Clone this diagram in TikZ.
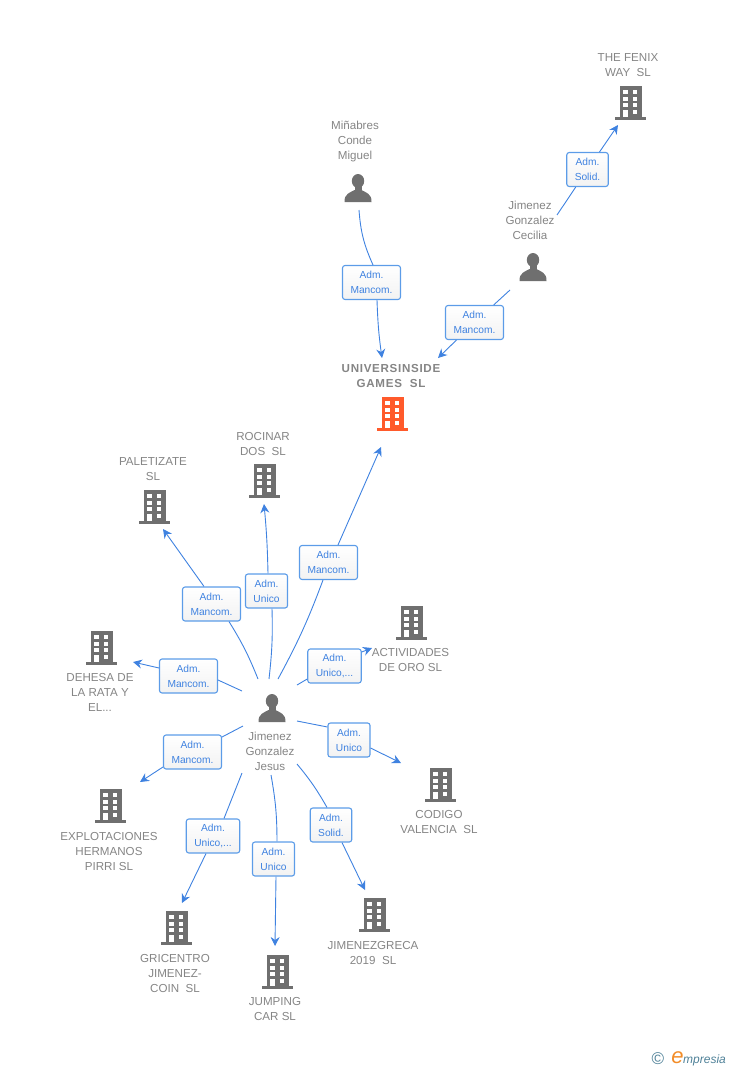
\documentclass[tikz,border=0pt]{standalone}
\usepackage{fontspec}
\setmainfont{Liberation Sans}
\usetikzlibrary{arrows.meta}
\definecolor{linkblue}{HTML}{3F82E0}
\definecolor{boxblue}{HTML}{5C9CE8}
\definecolor{labelgray}{HTML}{858585}
\definecolor{icongray}{HTML}{6F6F6F}
\definecolor{rootorange}{HTML}{FF5A2B}
\definecolor{logoteal}{HTML}{4F8198}
\definecolor{logoorange}{HTML}{F28C28}
\tikzset{
  entity/.style={text=labelgray,align=center,inner sep=0pt,yshift=-.7pt,font=\fontsize{11.6}{15}\selectfont},
  rootentity/.style={entity,font=\fontsize{11.6}{15}\selectfont\bfseries\addfontfeature{LetterSpace=6}},
  role/.style={draw=boxblue,line width=1.1pt,rounded corners=2.5pt,top color=white,bottom color=black!5,
    text=linkblue,align=center,minimum height=34pt,inner xsep=8pt,inner ysep=0pt,font=\fontsize{10.2}{15}\selectfont},
  link/.style={draw=linkblue,line width=.9pt},
  arrow/.style={link,-{Stealth[length=9pt,width=9pt,inset=3pt]}},
  building/.pic={
    \fill[pic actions] (-11,-17) rectangle (11,14);
    \fill[pic actions] (-16,14) rectangle (15,17);
    \foreach \y in {-13,-6.4,.3}{
      \fill[white] (-7.7,\y) rectangle (-3.3,\y+4);
      \fill[white] (1.7,\y) rectangle (6.3,\y+4);
    }
    \fill[white] (-7.7,7) rectangle (-3.3,14);
    \fill[white] (1.7,7) rectangle (6.3,11);
  },
  person/.pic={
    \fill[pic actions] (0,-7) ellipse (6.2 and 7);
    \fill[pic actions] (-3.5,-2) rectangle (3.5,3);
    \fill[pic actions] (-13.5,14) .. controls (-14,6) and (-8,4.5) .. (-3.5,2) -- (3.5,2)
      .. controls (8,4.5) and (14,6) .. (13.5,14) -- cycle;
  }
}
\begin{document}
\begin{tikzpicture}[x=1pt,y=-1pt]
\useasboundingbox (0,0) rectangle (728,1070);
% people
\pic[fill=icongray] at (358,188) {person};
\pic[fill=icongray] at (533,267) {person};
\pic[fill=icongray] at (272,708) {person};
\node[entity] (minabres) at (355,141) {Miñabres\\Conde\\Miguel};
\node[entity] (cecilia) at (530,220) {Jimenez\\Gonzalez\\Cecilia};
\node[entity] (jesus) at (270,751) {Jimenez\\Gonzalez\\Jesus};
% companies
\pic[fill=rootorange] at (393,414) {building};
\pic[fill=icongray] at (631,103) {building};
\pic[fill=icongray] at (265,481) {building};
\pic[fill=icongray] at (155,507) {building};
\pic[fill=icongray] at (412,623) {building};
\pic[fill=icongray] at (102,648) {building};
\pic[fill=icongray] at (441,785) {building};
\pic[fill=icongray] at (111,806) {building};
\pic[fill=icongray] at (177,928) {building};
\pic[fill=icongray] at (278,972) {building};
\pic[fill=icongray] at (375,915) {building};
\node[rootentity] (universinside) at (391,375.5) {UNIVERSINSIDE\\GAMES\ \ SL};
\node[entity] (fenix) at (628,64.5) {THE FENIX\\WAY\ \ SL};
\node[entity] (rocinar) at (263,443.5) {ROCINAR\\DOS\ \ SL};
\node[entity] (paletizate) at (153,468.5) {PALETIZATE\\SL};
\node[entity] (actividades) at (410.5,659.5) {ACTIVIDADES\\DE ORO SL};
\node[entity] (dehesa) at (100,692) {DEHESA DE\\LA RATA Y\\EL...};
\node[entity] (codigo) at (439,821.5) {CODIGO\\VALENCIA\ \ SL};
\node[entity] (explotaciones) at (109,851) {EXPLOTACIONES\\HERMANOS\\PIRRI SL};
\node[entity] (gricentro) at (175,973) {GRICENTRO\\JIMENEZ-\\COIN\ \ SL};
\node[entity] (jumping) at (275,1008.5) {JUMPING\\CAR SL};
\node[entity] (jimenezgreca) at (373,952.5) {JIMENEZGRECA\\2019\ \ SL};
% role boxes
\node[role] (boxminabres) at (371.5,282.5) {Adm.\\Mancom.};
\node[role] (boxcecilia) at (474.5,322.5) {Adm.\\Mancom.};
\node[role] (boxfenix) at (587.5,169.5) {Adm.\\Solid.};
\node[role] (boxuniv) at (328.5,562.5) {Adm.\\Mancom.};
\node[role] (boxrocinar) at (266.5,591) {Adm.\\Unico};
\node[role] (boxpaletizate) at (211.5,604) {Adm.\\Mancom.};
\node[role] (boxdehesa) at (188.5,676) {Adm.\\Mancom.};
\node[role] (boxactividades) at (334.5,666) {Adm.\\Unico,...};
\node[role] (boxcodigo) at (349,740) {Adm.\\Unico};
\node[role] (boxexplotaciones) at (192.5,752) {Adm.\\Mancom.};
\node[role] (boxgricentro) at (213,836) {Adm.\\Unico,...};
\node[role] (boxjumping) at (273.5,859) {Adm.\\Unico};
\node[role] (boxjimenezgreca) at (331,825) {Adm.\\Solid.};
% free ends of the links
\coordinate (fromminabres) at (359,210);
\coordinate (fromcecilia) at (510,290);
\coordinate (fromceciliatop) at (557,215);
\coordinate (jesusuniv) at (278,679);
\coordinate (jesusrocinar) at (269,679);
\coordinate (jesuspaletizate) at (258,679);
\coordinate (jesusdehesa) at (242,691);
\coordinate (jesusactividades) at (297,685);
\coordinate (jesuscodigo) at (297,721);
\coordinate (jesusexplotaciones) at (243,726);
\coordinate (jesusgricentro) at (242,773);
\coordinate (jesusjumping) at (271,775);
\coordinate (jesusjimenezgreca) at (297,764);
\coordinate (tominabres) at (382,358);
\coordinate (tocecilia) at (438,358);
\coordinate (tofenix) at (618,125);
\coordinate (touniv) at (381,447);
\coordinate (torocinar) at (264,504);
\coordinate (topaletizate) at (163,529);
\coordinate (todehesa) at (133,662);
\coordinate (toactividades) at (372,648);
\coordinate (tocodigo) at (401,763);
\coordinate (toexplotaciones) at (140,782);
\coordinate (togricentro) at (182,903);
\coordinate (tojumping) at (275,946);
\coordinate (tojimenezgreca) at (365,890);
% links
\draw[link] (fromminabres) to[bend right=10] ([xshift=1.5]boxminabres.north);
\draw[arrow] ([xshift=5.5]boxminabres.south) to[bend right=3] (tominabres);
\draw[link] (fromcecilia) -- (boxcecilia);
\draw[arrow] (boxcecilia) -- (tocecilia);
\draw[link] (fromceciliatop) -- (boxfenix);
\draw[arrow] (boxfenix) -- (tofenix);
\draw[link] (jesusuniv) to[bend right=4] ([xshift=-5.5]boxuniv.south);
\draw[arrow] ([xshift=9.5]boxuniv.north) -- (touniv);
\draw[link] (jesusrocinar) to[bend right=4] ([xshift=5.5]boxrocinar.south);
\draw[arrow] ([xshift=1.5]boxrocinar.north) to[bend right=2] (torocinar);
\draw[link] (jesuspaletizate) to[bend right=5] ([xshift=17.5]boxpaletizate.south);
\draw[arrow] ([xshift=-7.5]boxpaletizate.north) -- (topaletizate);
\draw[link] (jesusdehesa) -- ([yshift=-4]boxdehesa.east);
\draw[arrow] ([yshift=8]boxdehesa.west) -- (todehesa);
\draw[link] (jesusactividades) -- ([yshift=-13]boxactividades.west);
\draw[arrow] ([yshift=14]boxactividades.east) -- (toactividades);
\draw[link] (jesuscodigo) -- ([yshift=13]boxcodigo.west);
\draw[arrow] ([yshift=-8]boxcodigo.east) -- (tocodigo);
\draw[link] (jesusexplotaciones) -- ([yshift=15]boxexplotaciones.east);
\draw[arrow] ([yshift=-15]boxexplotaciones.west) -- (toexplotaciones);
\draw[link] (jesusgricentro) -- ([xshift=11]boxgricentro.north);
\draw[arrow] ([xshift=-7]boxgricentro.south) -- (togricentro);
\draw[link] (jesusjumping) to[bend left=5] ([xshift=3.5]boxjumping.north);
\draw[arrow] ([xshift=2.5]boxjumping.south) -- (tojumping);
\draw[link] (jesusjimenezgreca) to[bend left=5] ([xshift=-4]boxjimenezgreca.north);
\draw[arrow] ([xshift=11]boxjimenezgreca.south) -- (tojimenezgreca);
% logo
\node[text=logoteal,inner sep=0pt,font=\fontsize{17}{17}\selectfont] (logoc) at (658,1059) {©};
\node[text=logoorange,inner sep=0pt,font=\fontsize{22}{22}\selectfont\itshape] (logoe) at (677.5,1058) {e};
\node[text=logoteal,inner sep=0pt,anchor=west,font=\fontsize{12}{12}\selectfont\itshape] (logotext) at (683,1060) {mpresia};
\end{tikzpicture}
\end{document}
